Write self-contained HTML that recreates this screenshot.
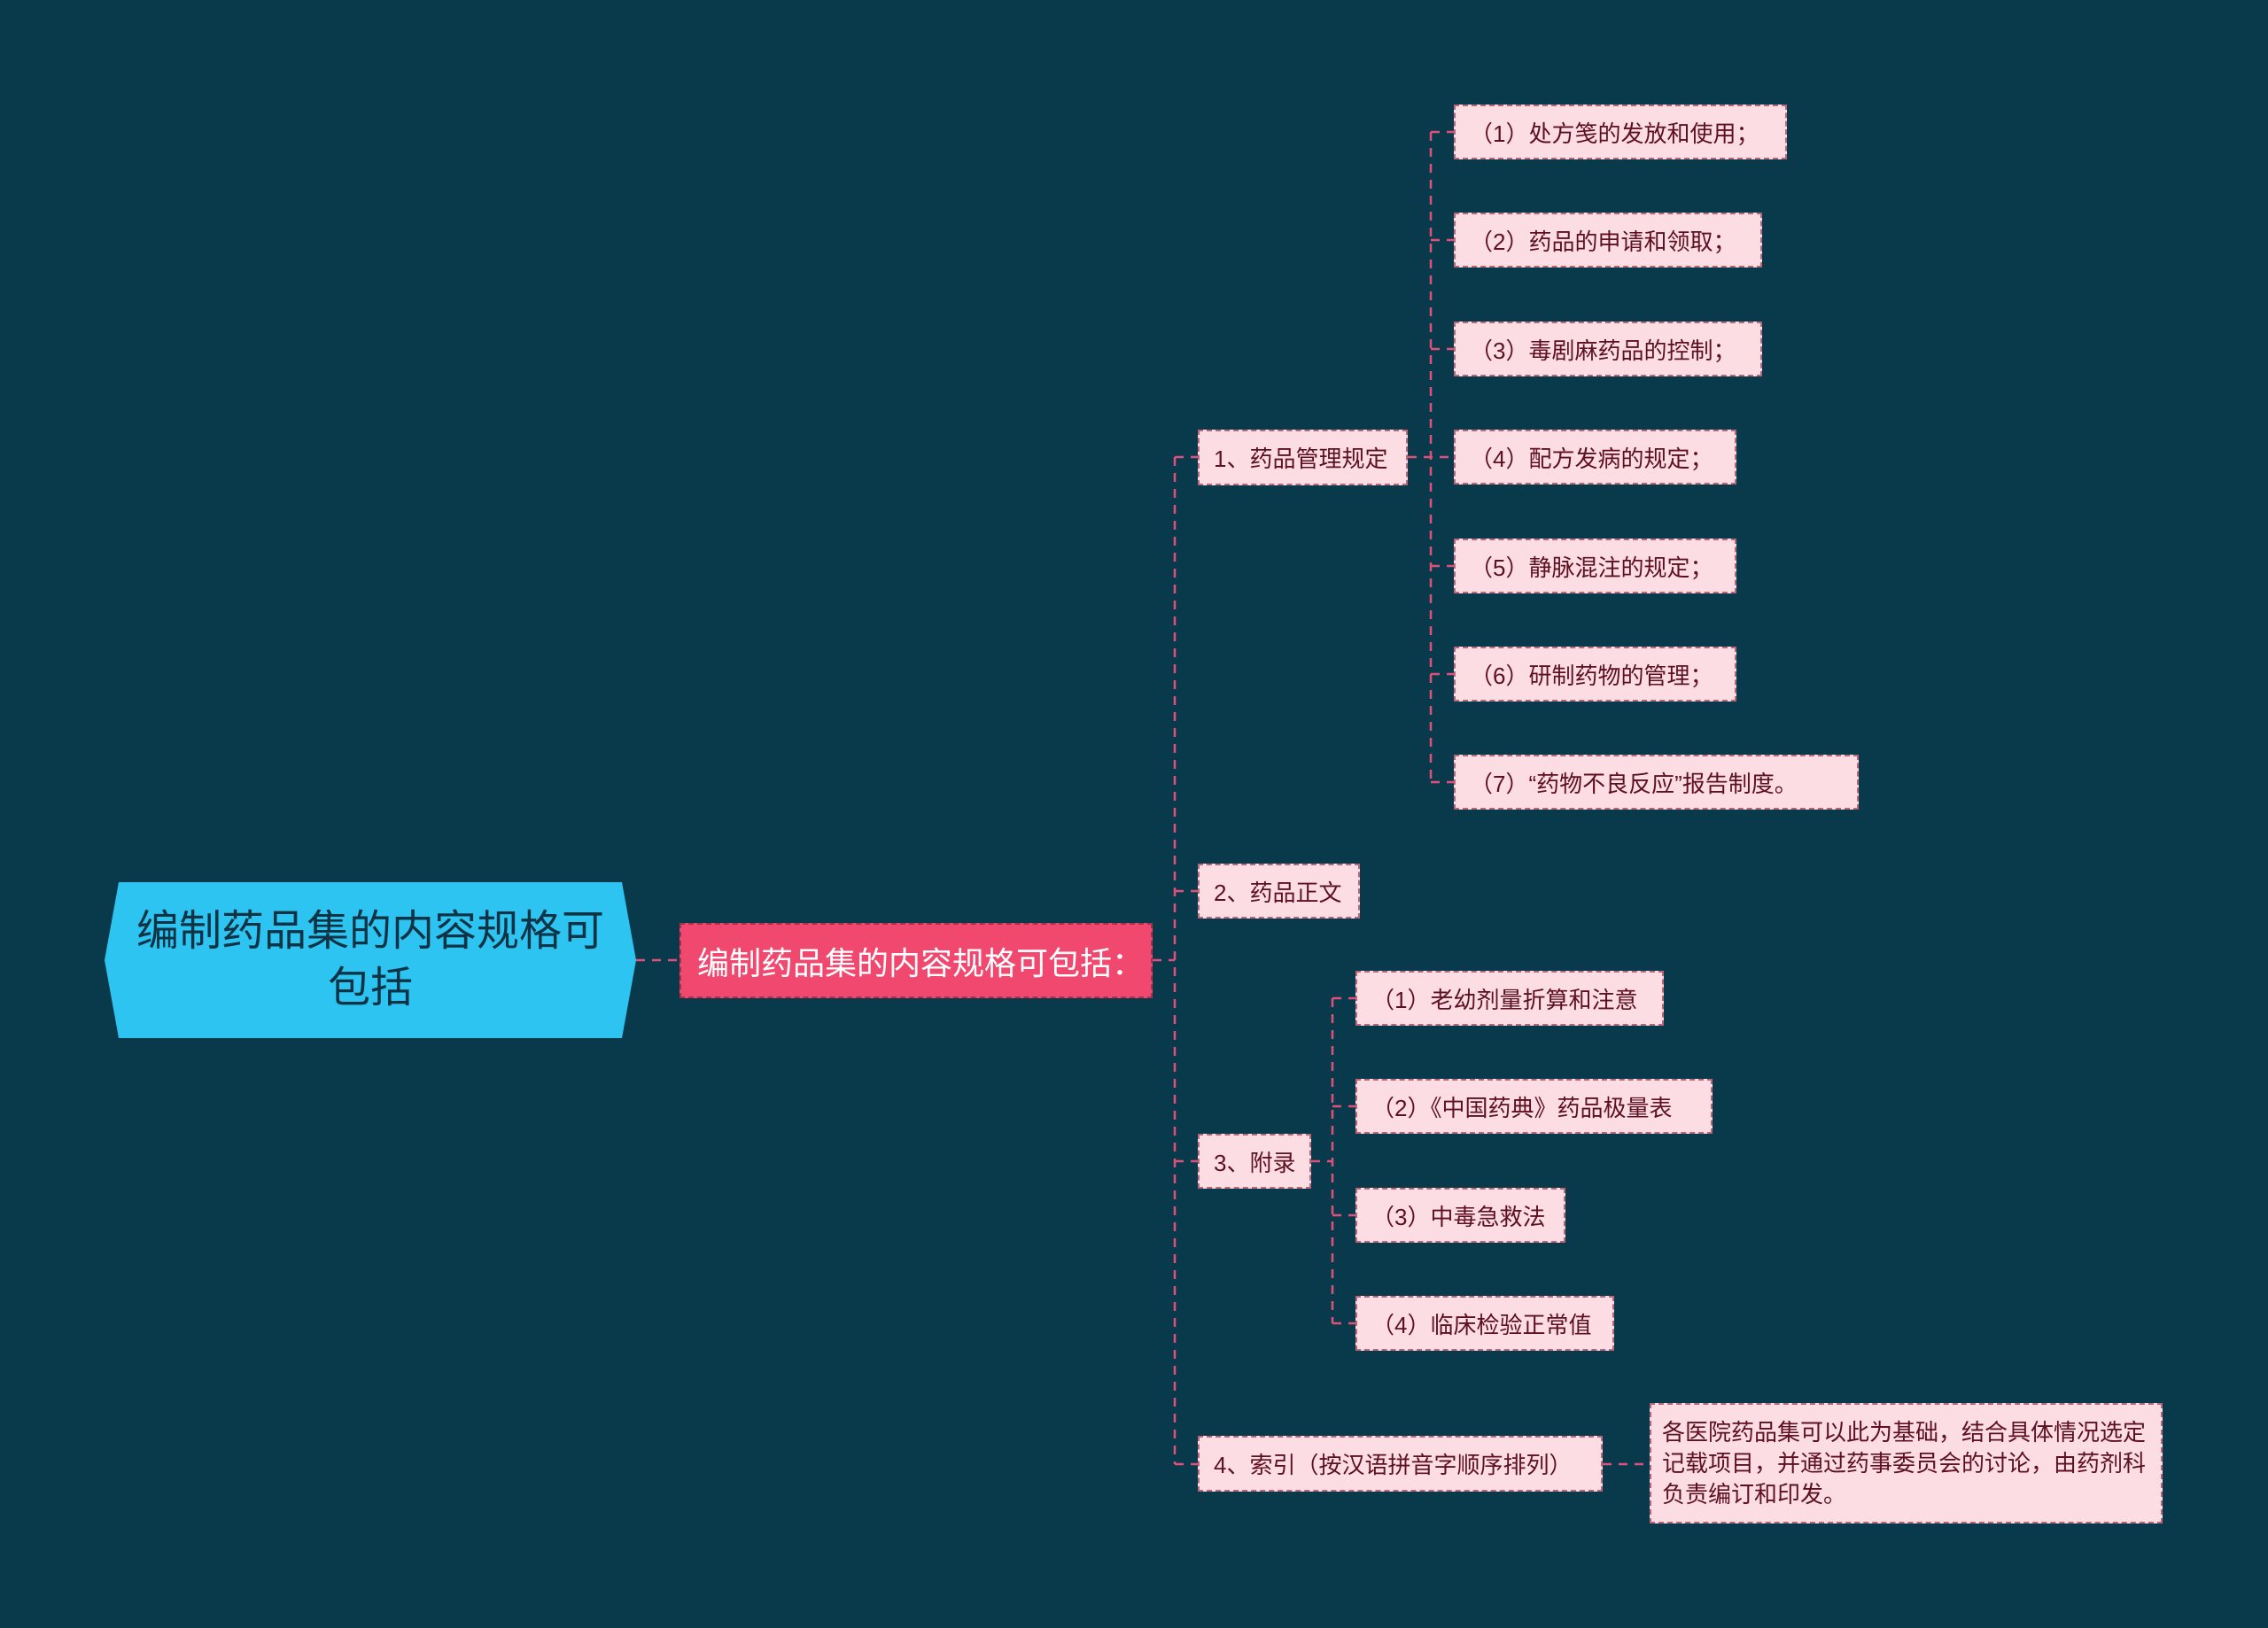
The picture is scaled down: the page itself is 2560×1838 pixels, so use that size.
<!DOCTYPE html>
<html><head><meta charset="utf-8"><style>
body{margin:0;width:2560px;height:1838px;background:#083a4b;overflow:hidden;position:relative;font-family:"Liberation Sans","Noto Sans CJK SC",sans-serif}
.n{position:absolute;box-sizing:border-box;display:flex;align-items:center;background:#fcdde3;border:2px dashed #b9667a;color:#5e1020;font-size:26px;padding:0 16px;white-space:nowrap}
svg{position:absolute;left:0;top:0}
</style></head><body>
<svg width="2560" height="1838">
<g stroke="#e0507a" stroke-width="2.5" stroke-dasharray="10,8" fill="none">
<path d="M718 1084H767"/>
<path d="M1301 1084H1326"/>
<path d="M1326 516V1653"/>
<path d="M1326 516H1352M1326 1006H1352M1326 1311H1352M1326 1653H1352"/>
<path d="M1589 516H1641"/>
<path d="M1615 149V883"/>
<path d="M1615 149H1641M1615 271H1641M1615 394H1641M1615 639H1641M1615 761H1641M1615 883H1641"/>
<path d="M1480 1311H1504"/>
<path d="M1504 1127V1494"/>
<path d="M1504 1127H1530M1504 1249H1530M1504 1372H1530M1504 1494H1530"/>
<path d="M1809 1653H1862"/>
</g>
<polygon points="118,1084 134,996 702,996 718,1084 702,1172 134,1172" fill="#2ec4f2"/>
</svg>
<div style="position:absolute;left:134px;top:996px;width:568px;height:176px;display:flex;align-items:center;justify-content:center;text-align:center;font-size:48px;line-height:64px;color:#0e3345">编制药品集的内容规格可<br>包括</div>
<div class="n" style="left:767px;top:1042px;width:534px;height:85px;background:#f0486f;border-color:#a8304f;color:#fff;font-size:36px;padding:0 18px">编制药品集的内容规格可包括：</div>
<div class="n" style="left:1352px;top:485px;width:237px;height:63px">1、药品管理规定</div>
<div class="n" style="left:1352px;top:975px;width:183px;height:62px">2、药品正文</div>
<div class="n" style="left:1352px;top:1280px;width:128px;height:62px">3、附录</div>
<div class="n" style="left:1352px;top:1621px;width:457px;height:63px">4、索引（按汉语拼音字顺序排列）</div>
<div class="n" style="left:1641px;top:118px;width:376px;height:62px">（1）处方笺的发放和使用；</div>
<div class="n" style="left:1641px;top:240px;width:348px;height:62px">（2）药品的申请和领取；</div>
<div class="n" style="left:1641px;top:363px;width:348px;height:62px">（3）毒剧麻药品的控制；</div>
<div class="n" style="left:1641px;top:485px;width:319px;height:62px">（4）配方发病的规定；</div>
<div class="n" style="left:1641px;top:608px;width:319px;height:62px">（5）静脉混注的规定；</div>
<div class="n" style="left:1641px;top:730px;width:319px;height:62px">（6）研制药物的管理；</div>
<div class="n" style="left:1641px;top:852px;width:457px;height:62px">（7）“药物不良反应”报告制度。</div>
<div class="n" style="left:1530px;top:1096px;width:348px;height:62px">（1）老幼剂量折算和注意</div>
<div class="n" style="left:1530px;top:1218px;width:403px;height:62px">（2）《中国药典》药品极量表</div>
<div class="n" style="left:1530px;top:1341px;width:237px;height:62px">（3）中毒急救法</div>
<div class="n" style="left:1530px;top:1463px;width:292px;height:62px">（4）临床检验正常值</div>
<div class="n" style="left:1862px;top:1584px;width:579px;height:136px;white-space:normal;line-height:35px;padding:0 12px;font-size:26px">各医院药品集可以此为基础，结合具体情况选定记载项目，并通过药事委员会的讨论，由药剂科负责编订和印发。</div>
</body></html>
